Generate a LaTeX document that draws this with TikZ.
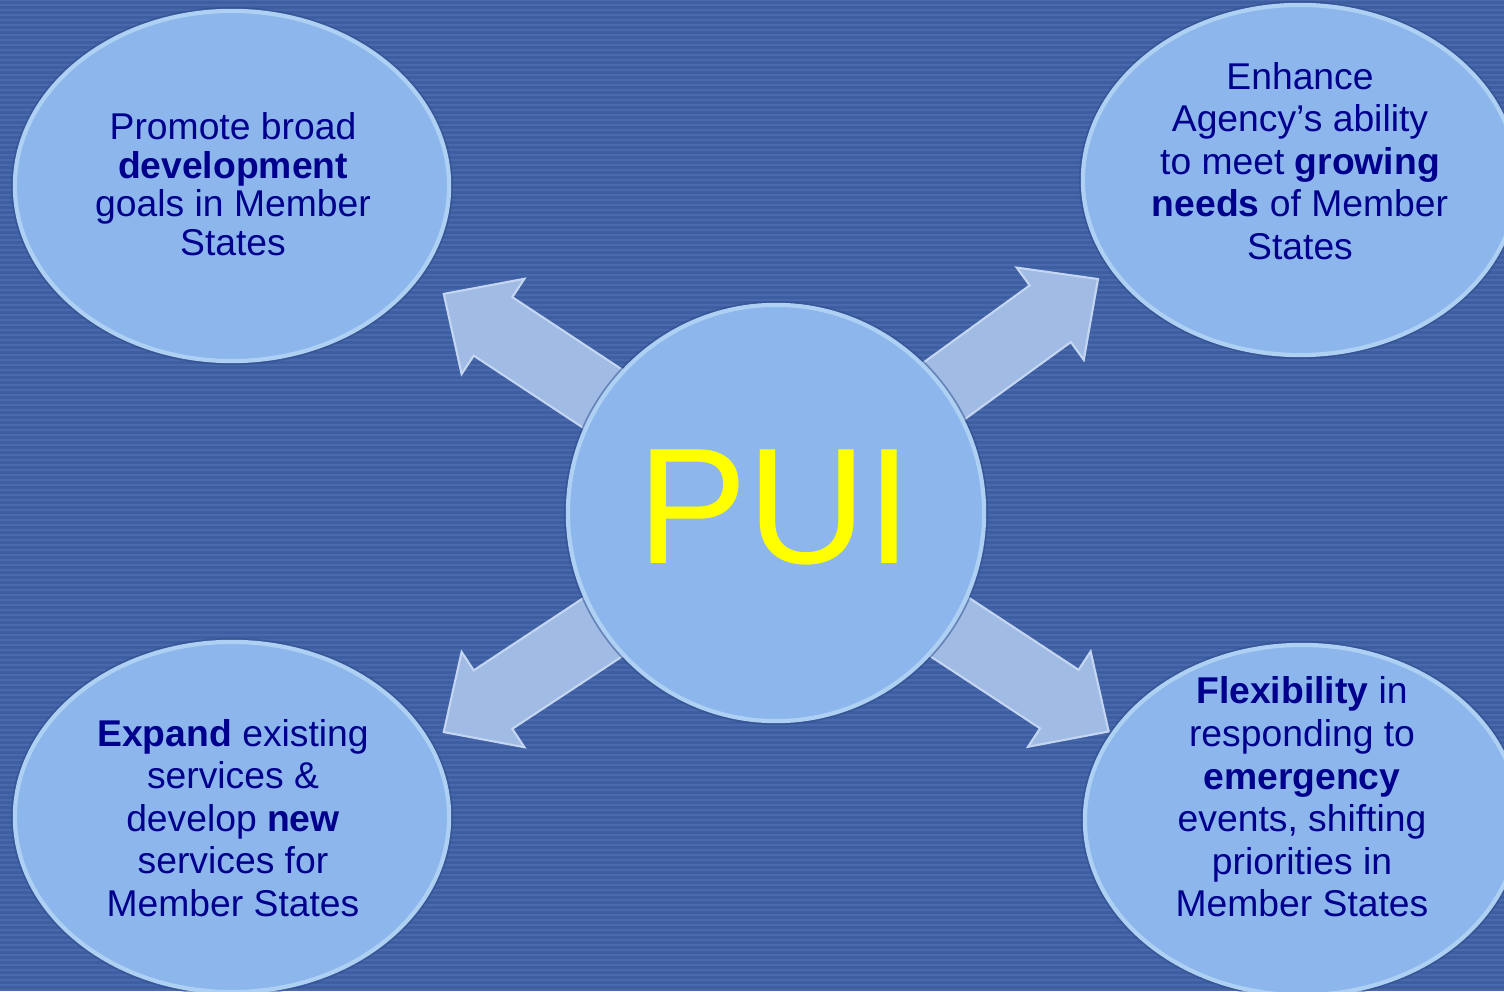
\documentclass[tikz,border=0pt]{standalone}
\usepackage{fontspec}
\setmainfont{Liberation Sans}
\usepackage{tikz}
\usetikzlibrary{shapes.geometric}
\definecolor{bgblue}{RGB}{62,94,162}
\definecolor{stripe}{RGB}{73,105,172}
\definecolor{bubble}{RGB}{140,182,236}
\definecolor{bubblerim}{RGB}{174,208,243}
\definecolor{halo}{RGB}{48,76,138}
\definecolor{arrowfill}{RGB}{166,192,232}
\definecolor{arrowedge}{RGB}{196,214,242}
\definecolor{navy}{RGB}{0,0,140}
\definecolor{puiyellow}{RGB}{255,255,0}
\pgfdeclareradialshading{bubbleshade}{\pgfpoint{0bp}{0bp}}{color(0bp)=(bubble); color(36bp)=(bubble); color(47bp)=(bubblerim); color(50bp)=(bubblerim)}
\newcommand{\puiarrow}[1]{%
  \fill[arrowbody, shift={(puicentre)}, rotate=#1]
    (0,-35) -- (339,-35) -- (339,-57) -- (398,0) -- (339,57) -- (339,35) -- (0,35) -- cycle;}

\begin{document}
\begin{tikzpicture}[x=0.01cm,y=0.01cm,
  bubble/.style={shape=ellipse,inner sep=0pt,minimum width=4.34cm,minimum height=3.5cm,
    shading=bubbleshade,draw=bubblerim,line width=1.2pt},
  hub/.style={shape=circle,inner sep=0pt,minimum size=4.16cm,
    shading=bubbleshade,draw=bubblerim,line width=1.2pt},
  bubbletext/.style={align=center,text=navy,font=\fontsize{10.6}{12.1}\selectfont},
  arrowbody/.style={fill=arrowfill,draw=arrowedge,line width=0.6pt,fill opacity=0.95}]

  \clip (0,0) rectangle (1504,991);
  \fill[bgblue] (0,0) rectangle (1504,991);
  \foreach \y in {0,5,...,990}
    \fill[stripe] (0,\y) rectangle (1504,\y+2);

  \coordinate (puicentre) at (776,478);

  \puiarrow{146.6}
  \puiarrow{36}
  \puiarrow{213.4}
  \puiarrow{-33.3}

  \fill[halo,opacity=0.5] (puicentre) circle (212);
  \node[hub] (pui) at (puicentre) {};
  \node[text=puiyellow,font=\fontsize{47}{55}\selectfont] (puitext) at (775,484) {PUI};

  \fill[halo,opacity=0.5] (232,805) ellipse (221 and 179);
  \fill[halo,opacity=0.5] (1300,811) ellipse (221 and 179);
  \fill[halo,opacity=0.5] (232,174) ellipse (221 and 179);
  \fill[halo,opacity=0.5] (1302,171) ellipse (221 and 179);

  \node[bubble] (dev) at (232,805) {};
  \node[bubble] (needs) at (1300,811) {};
  \node[bubble] (expand) at (232,174) {};
  \node[bubble] (flex) at (1302,171) {};

  \node[bubbletext,font=\fontsize{10.6}{10.95}\selectfont] (devtext) at (233,807) {Promote broad\\\textbf{development}\\goals in Member\\States};
  \node[bubbletext] (needstext) at (1300,830) {Enhance\\Agency’s ability\\to meet \textbf{growing}\\\textbf{needs} of Member\\States};
  \node[bubbletext] (expandtext) at (233,173) {\textbf{Expand} existing\\services \&\\develop \textbf{new}\\services for\\Member States};
  \node[bubbletext] (flextext) at (1302,194) {\textbf{Flexibility} in\\responding to\\\textbf{emergency}\\events, shifting\\priorities in\\Member States};
\end{tikzpicture}
\end{document}
